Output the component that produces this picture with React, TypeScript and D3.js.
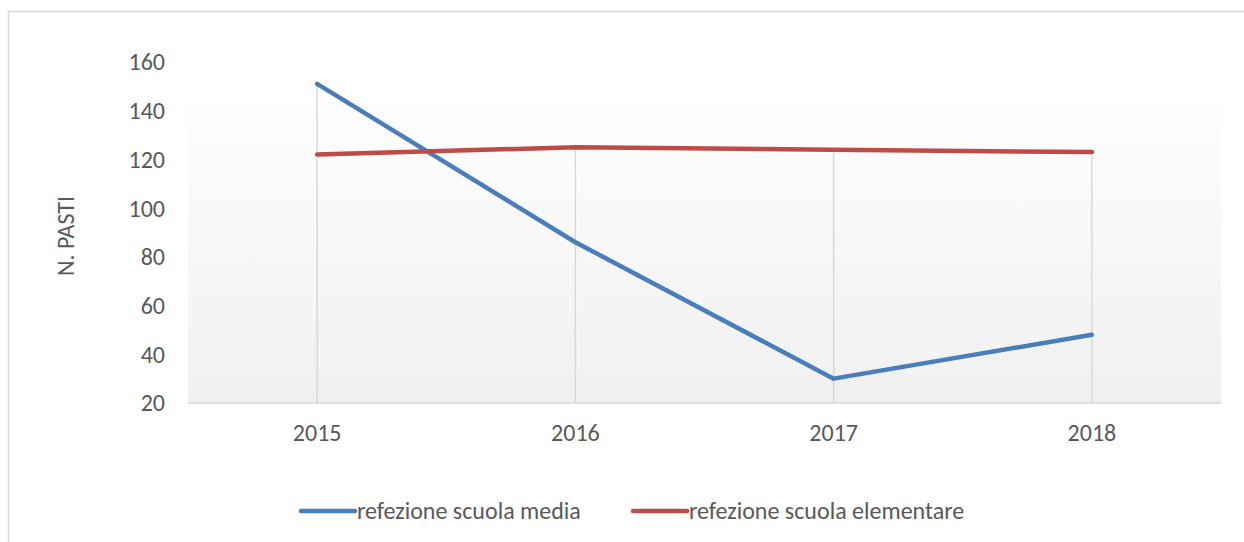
import React from "react";
import * as d3 from "d3";

const years = ["2015", "2016", "2017", "2018"];
const mediaValues = [151, 86, 30, 48];
const elementareValues = [122, 125, 124, 123];
const yTicks = [20, 40, 60, 80, 100, 120, 140, 160];
const seriesNames = ["refezione scuola media", "refezione scuola elementare"];
const seriesColors = ["#4a7ebb", "#be4b48"];
const axisTitle = "N. PASTI";

const W = 1244;
const H = 542;
const FONT = "Carlito, Calibri, Lato, sans-serif";
const TEXT = "#595959";

export default function App() {
  const x = d3.scaleBand<string>().domain(years).range([188, 1221]).padding(0);
  const y = d3.scaleLinear().domain([20, 160]).range([403, 62]);
  const cx = (d: string) => (x(d) as number) + x.bandwidth() / 2;
  const series = [mediaValues, elementareValues];
  const line = d3
    .line<number>()
    .x((_, i) => cx(years[i]))
    .y((v) => y(v));
  const legendItems = [
    { lx: 301, tx: 357 },
    { lx: 633, tx: 689 },
  ];
  return (
    <svg
      width={W}
      height={H}
      style={{ position: "absolute", left: 0, top: 0, display: "block", background: "#fff" }}
      fontFamily={FONT}
    >
      <defs>
        <linearGradient id="bg" x1="0" y1="0" x2="0" y2="1">
          <stop offset="0" stopColor="#fefefe" />
          <stop offset="1" stopColor="#f0f0f0" />
        </linearGradient>
      </defs>
      <rect x={8.5} y={11.5} width={W} height={H} fill="#fff" stroke="#d9d9d9" strokeWidth={1.5} />
      <rect x={188} y={100} width={1221 - 188} height={403 - 100} fill="url(#bg)" />
      {years.map((d, i) => (
        <line
          key={d}
          x1={cx(d)}
          x2={cx(d)}
          y1={y(Math.max(mediaValues[i], elementareValues[i]))}
          y2={y(20)}
          stroke="#d9d9d9"
          strokeWidth={1.5}
        />
      ))}
      <line x1={188} x2={1221} y1={y(20)} y2={y(20)} stroke="#d9d9d9" strokeWidth={1.5} />
      {yTicks.map((t) => (
        <text key={t} x={165} y={y(t)} dy="0.35em" textAnchor="end" fontSize={24} fill={TEXT}>
          {t}
        </text>
      ))}
      {years.map((d) => (
        <text key={d} x={cx(d)} y={433} dy="0.35em" textAnchor="middle" fontSize={24} fill={TEXT}>
          {d}
        </text>
      ))}
      <text
        transform={`translate(66,${236}) rotate(-90)`}
        textAnchor="middle"
        dy="0.35em"
        fontSize={24}
        fill={TEXT}
      >
        {axisTitle}
      </text>
      {series.map((vals, i) => (
        <path
          key={i}
          d={line(vals) as string}
          fill="none"
          stroke={seriesColors[i]}
          strokeWidth={4.5}
          strokeLinecap="round"
          strokeLinejoin="round"
        />
      ))}
      {seriesNames.map((n, i) => (
        <g key={n}>
          <line
            x1={legendItems[i].lx}
            x2={legendItems[i].lx + 54}
            y1={511}
            y2={511}
            stroke={seriesColors[i]}
            strokeWidth={4.5}
            strokeLinecap="round"
          />
          <text x={legendItems[i].tx} y={511} dy="0.35em" fontSize={24} fill={TEXT}>
            {n}
          </text>
        </g>
      ))}
    </svg>
  );
}
